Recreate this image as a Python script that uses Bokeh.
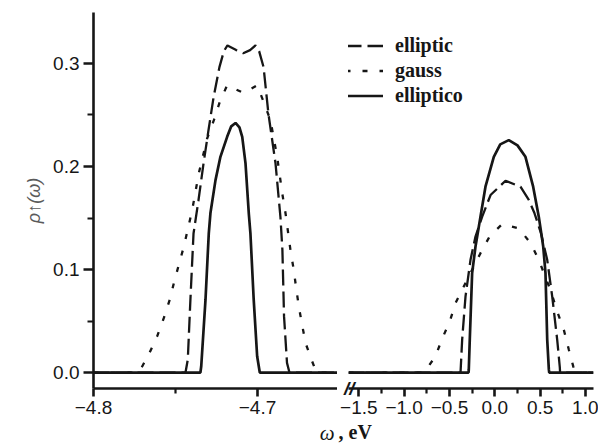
from bokeh.plotting import figure
from bokeh.models import FixedTicker, Legend, LegendItem, Range1d, Title, LinearAxis
from bokeh.layouts import row
from bokeh.embed import file_html
from bokeh.resources import INLINE

# ---------------- data ----------------
# left panel (omega near -4.7 eV)
elliptic_left_x = [-4.8000, -4.7439, -4.7425, -4.7409, -4.7390, -4.7360, -4.7329, -4.7299,
                   -4.7268, -4.7232, -4.7205, -4.7183, -4.7130, -4.7087, -4.7045, -4.7012,
                   -4.6990, -4.6963, -4.6933, -4.6890, -4.6860, -4.6848, -4.6838, -4.6820,
                   -4.6805, -4.6512]
elliptic_left_y = [0.0, 0.0, 0.0126, 0.0707, 0.135, 0.167, 0.203, 0.235,
                   0.267, 0.2965, 0.312, 0.3175, 0.313, 0.310, 0.313, 0.3175,
                   0.312, 0.2965, 0.251, 0.203, 0.151, 0.119, 0.0545, 0.0094,
                   0.0, 0.0]

gauss_left_x = [-4.8000, -4.7730, -4.7713, -4.7659, -4.7612, -4.7571, -4.7535, -4.7510,
                -4.7480, -4.7449, -4.7398, -4.7358, -4.7307, -4.7266, -4.7230, -4.7185,
                -4.7083, -4.7002, -4.6962, -4.6921, -4.6880, -4.6849, -4.6829, -4.6799,
                -4.6779, -4.6764, -4.6748, -4.6728, -4.6707, -4.6671, -4.6640, -4.6512]
gauss_left_y = [0.0, 0.0, 0.003, 0.019, 0.0351, 0.053, 0.0707, 0.0868,
                0.1045, 0.1223, 0.1578, 0.1933, 0.2272, 0.245, 0.2626, 0.2788,
                0.2713, 0.2788, 0.2626, 0.245, 0.2094, 0.174, 0.1546, 0.119,
                0.0997, 0.082, 0.0642, 0.0465, 0.0287, 0.0126, 0.0, 0.0]

elliptico_left_x = [-4.8000, -4.7348, -4.7343, -4.7317, -4.7297, -4.7287, -4.7256, -4.7226,
                    -4.7185, -4.7160, -4.7134, -4.7110, -4.7093, -4.7073, -4.7053, -4.7043,
                    -4.7023, -4.7002, -4.6986, -4.6512]
elliptico_left_y = [0.0, 0.0, 0.0061, 0.0707, 0.135, 0.1546, 0.1868, 0.2094,
                    0.2288, 0.239, 0.2423, 0.238, 0.2288, 0.203, 0.1546, 0.135,
                    0.0707, 0.0158, 0.0, 0.0]

# right panel (omega near the Fermi level)
elliptic_right_x = [-1.6136, -0.378, -0.360, -0.323, -0.268, -0.213, -0.139, -0.047,
                    0.118, 0.283, 0.375, 0.438, 0.510, 0.578, 0.633, 0.688,
                    0.717, 0.720, 1.0885]
elliptic_right_y = [0.0, 0.0, 0.032, 0.0739, 0.1094, 0.132, 0.1513, 0.1723,
                    0.1862, 0.1804, 0.1675, 0.1546, 0.135, 0.1094, 0.0739, 0.032,
                    0.005, 0.0, 0.0]

gauss_right_x = [-1.6136, -0.780, -0.765, -0.654, -0.580, -0.496, -0.433, -0.305,
                 -0.158, -0.058, 0.082, 0.265, 0.394, 0.485, 0.614, 0.688,
                 0.761, 0.816, 0.865, 0.890, 1.0885]
gauss_right_y = [0.0, 0.0, 0.002, 0.0158, 0.033, 0.0497, 0.0675, 0.090,
                 0.1159, 0.132, 0.1442, 0.140, 0.1256, 0.1094, 0.080, 0.0593,
                 0.0416, 0.0223, 0.006, 0.0, 0.0]

elliptico_right_x = [-1.6136, -0.289, -0.287, -0.276, -0.250, -0.213, -0.158, -0.103,
                     -0.011, 0.060, 0.154, 0.250, 0.338, 0.423, 0.485, 0.534,
                     0.559, 0.578, 0.596, 0.600, 1.0885]
elliptico_right_y = [0.0, 0.0, 0.003, 0.032, 0.0965, 0.1223, 0.1513, 0.1804,
                     0.2094, 0.2215, 0.2256, 0.2205, 0.2094, 0.1804, 0.1513, 0.1223,
                     0.0965, 0.032, 0.003, 0.0, 0.0]

series_names = ["elliptic", "gauss", "elliptico"]

left_ticks = [-4.8, -4.7]
left_minor = [-4.75]
left_tick_labels = ["−4.8", "−4.7"]
right_ticks = [-1.5, -1.0, -0.5, 0.0, 0.5, 1.0]
right_minor = [-1.25, -0.75, -0.25, 0.25, 0.75]
right_tick_labels = ["−1.5", "−1.0", "−0.5", "0.0", "0.5", "1.0"]
y_ticks = [0.0, 0.1, 0.2, 0.3]
y_minor = [0.05, 0.15, 0.25]
y_tick_labels = ["0.0", "0.1", "0.2", "0.3"]
y_label = "ρ↑(ω)"
x_label_parts = ["ω", ", eV"]
break_mark = "//"

# ---------------- styling ----------------
INK = "#161616"
GRAY = "#5a5a5a"
TICK_FONT = "Liberation Sans"
SERIF = "Liberation Serif"
Y0, Y1 = -0.0155, 0.3495


def style_axis(ax, ticks, minor, labels, major_out, minor_out):
    ax.ticker = FixedTicker(ticks=ticks, minor_ticks=minor)
    ax.major_label_overrides = {t: l for t, l in zip(ticks, labels)}
    ax.axis_line_color = INK
    ax.axis_line_width = 2.6
    ax.major_tick_line_color = INK
    ax.major_tick_line_width = 2.6
    ax.minor_tick_line_color = INK
    ax.minor_tick_line_width = 2.2
    ax.major_tick_in = 0
    ax.major_tick_out = major_out
    ax.minor_tick_in = 0
    ax.minor_tick_out = minor_out
    ax.major_label_text_font = TICK_FONT
    ax.major_label_text_font_size = "19px"
    ax.major_label_text_color = INK
    ax.major_label_standoff = 4


y_range = Range1d(Y0, Y1)

left = figure(width=337, height=446, x_range=Range1d(-4.8, -4.6512), y_range=y_range,
              output_backend="svg", toolbar_location=None,
              min_border_left=93, min_border_right=0, min_border_top=12, min_border_bottom=57)
right = figure(width=261, height=446, x_range=Range1d(-1.6136, 1.0885), y_range=y_range,
               output_backend="svg", toolbar_location=None, y_axis_location=None,
               min_border_left=11, min_border_right=5, min_border_top=12, min_border_bottom=57)

for p in (left, right):
    p.outline_line_color = None
    p.xgrid.visible = False
    p.ygrid.visible = False
    p.background_fill_color = "white"
    p.border_fill_color = "white"

style_axis(left.xaxis[0], left_ticks, left_minor, left_tick_labels, 8, 5)
style_axis(right.xaxis[0], right_ticks, right_minor, right_tick_labels, 8, 5)
style_axis(left.yaxis[0], y_ticks, y_minor, y_tick_labels, 10, 6)

# y axis label, as a side title so that it can sit a little above the centre
left.add_layout(Title(text=y_label, align="center", offset=8, standoff=14,
                      text_font=TICK_FONT, text_font_style="italic", text_font_size="18px",
                      text_color=GRAY), "left")

# break mark "//" drawn as the single label of an invisible axis at the gap
brk = LinearAxis(ticker=FixedTicker(ticks=[Y0 + 0.0001]),
                 major_label_overrides={Y0 + 0.0001: break_mark})
brk.axis_line_color = None
brk.major_tick_line_color = None
brk.minor_tick_line_color = None
brk.major_tick_out = 0
brk.major_tick_in = 0
brk.major_label_standoff = -6
brk.major_label_text_font = TICK_FONT
brk.major_label_text_font_style = "bold italic"
brk.major_label_text_font_size = "19px"
brk.major_label_text_color = INK
right.add_layout(brk, "left")

# x axis label "ω, eV", split across the two panels
left.add_layout(Title(text=x_label_parts[0], align="right", offset=3, standoff=4,
                      text_font=SERIF, text_font_style="italic", text_font_size="21px",
                      text_color=INK), "below")
right.add_layout(Title(text=x_label_parts[1], align="left", offset=-10, standoff=4,
                       text_font=SERIF, text_font_style="bold", text_font_size="20px",
                       text_color=INK), "below")

DASH = "16 6"
DOT = "5 12"

left.line(elliptic_left_x, elliptic_left_y, line_color=INK, line_width=2.3, line_dash=DASH)
left.line(gauss_left_x, gauss_left_y, line_color=INK, line_width=2.3, line_dash=DOT)
left.line(elliptico_left_x, elliptico_left_y, line_color=INK, line_width=2.7)

rd = right.line(elliptic_right_x, elliptic_right_y, line_color=INK, line_width=2.3, line_dash=DASH)
rg = right.line(gauss_right_x, gauss_right_y, line_color=INK, line_width=2.3, line_dash=DOT)
rs = right.line(elliptico_right_x, elliptico_right_y, line_color=INK, line_width=2.7)

legend = Legend(items=[LegendItem(label=series_names[0], renderers=[rd]),
                       LegendItem(label=series_names[1], renderers=[rg]),
                       LegendItem(label=series_names[2], renderers=[rs])],
                location=(-3, 281), orientation="vertical",
                border_line_color=None, background_fill_alpha=0,
                padding=0, margin=0, spacing=2,
                glyph_width=38, glyph_height=23, label_height=23, label_standoff=12,
                label_text_font=SERIF, label_text_font_style="bold",
                label_text_font_size="20px", label_text_color=INK)
right.add_layout(legend)

layout = row(left, right)
open("out.html", "w").write(file_html(layout, INLINE))
